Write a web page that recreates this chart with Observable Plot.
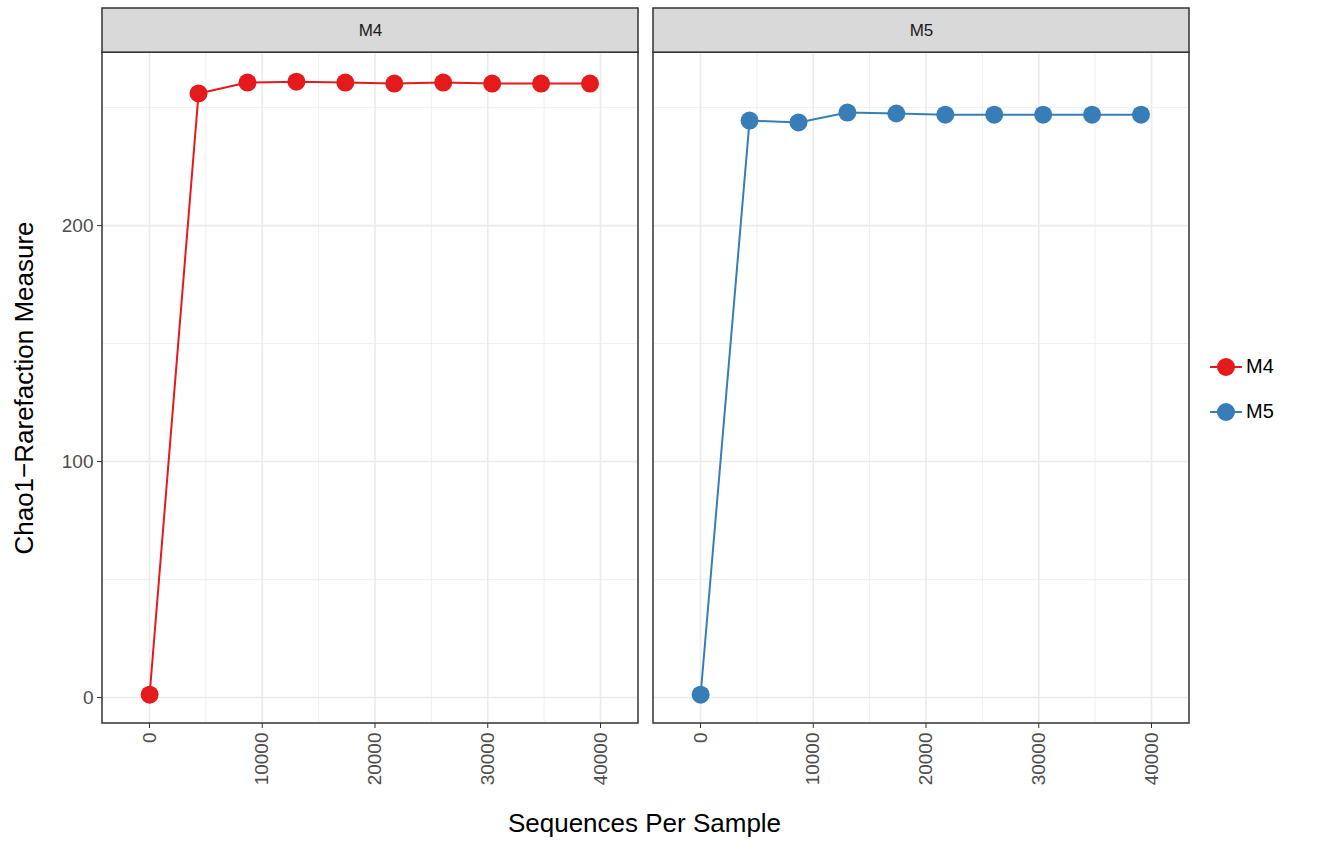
<!DOCTYPE html>
<html>
<head>
<meta charset="utf-8">
<script src="https://cdn.jsdelivr.net/npm/d3@7"></script>
<script src="https://cdn.jsdelivr.net/npm/@observablehq/plot@0.6"></script>
<style>
  body { margin: 0; background: #fff; font-family: "Liberation Sans", Arial, sans-serif; }
  #wrap { position: relative; width: 1325px; height: 846px; }
  #legend { position: absolute; left: 1208px; top: 344px; font-size: 20px; color: #000; }
  .item { display: flex; align-items: center; height: 45px; }
</style>
</head>
<body>
<div id="wrap">
  <div id="chart"></div>
  <div id="legend"></div>
</div>
<script>
// samples and depth
const samples = ["M4", "M5"];
const colors = ["#e41a1c", "#377eb8"];
const depths = [10, 4350, 8690, 13030, 17370, 21710, 26050, 30390, 34730, 39070];
const chaoM4 = [1.2, 256, 260.6, 261, 260.6, 260.2, 260.6, 260.2, 260.2, 260.2];
const chaoM5 = [1.2, 244.5, 243.7, 247.9, 247.5, 247, 247, 247, 247, 247];

const rows = [];
depths.forEach((d, i) => {
  rows.push({sample: "M4", depth: d, chao: chaoM4[i]});
  rows.push({sample: "M5", depth: d, chao: chaoM5[i]});
});

const majorX = [0, 10000, 20000, 30000, 40000];
const minorX = [5000, 15000, 25000, 35000];
const majorY = [0, 100, 200];
const minorY = [50, 150, 250];
const yTop = 273.3;
const stripTop = 292;

const chart = Plot.plot({
  width: 1200,
  height: 846,
  marginLeft: 101,
  marginRight: 11,
  marginTop: 8,
  marginBottom: 123,
  style: {fontFamily: "Liberation Sans, Arial, sans-serif", background: "#fff"},
  fx: {domain: samples, paddingInner: 0.0277, paddingOuter: 0, axis: null},
  x: {domain: [-4170, 43370], label: null},
  y: {domain: [-11, stripTop], label: null},
  color: {domain: samples, range: colors},
  marks: [
    Plot.ruleX(minorX, {y1: -11, y2: yTop, stroke: "#ebebeb", strokeWidth: 0.8}),
    Plot.ruleY(minorY, {stroke: "#ebebeb", strokeWidth: 0.8}),
    Plot.ruleX(majorX, {y1: -11, y2: yTop, stroke: "#ebebeb", strokeWidth: 1.6}),
    Plot.ruleY(majorY, {stroke: "#ebebeb", strokeWidth: 1.6}),
    Plot.line(rows, {x: "depth", y: "chao", fx: "sample", stroke: "sample", strokeWidth: 2}),
    Plot.dot(rows, {x: "depth", y: "chao", fx: "sample", fill: "sample", r: 9}),
    // panel border
    Plot.rect(samples, {fx: d => d, x1: -4170, x2: 43370, y1: -11, y2: yTop, fill: "none", stroke: "#333", strokeWidth: 1.5}),
    // strip
    Plot.rect(samples, {fx: d => d, x1: -4170, x2: 43370, y1: yTop, y2: stripTop, fill: "#d9d9d9", stroke: "#333", strokeWidth: 1.5}),
    Plot.text(samples, {fx: d => d, x: 19600, y: (yTop + stripTop) / 2, text: d => d, fontSize: 17, fill: "#1a1a1a"}),
    Plot.axisX(majorX, {tickRotate: -90, tickSize: 5, fontSize: 19, fill: "#4d4d4d", stroke: "#333", tickPadding: 4, tickFormat: d => String(d), label: null}),
    Plot.axisY(majorY, {tickSize: 5, fontSize: 19, fill: "#4d4d4d", stroke: "#333", tickPadding: 4, label: null, facetAnchor: "left"})
  ]
});

const svg = d3.select(chart);
svg.append("text").attr("x", 101 + 1087 / 2).attr("y", 832).attr("text-anchor", "middle")
  .attr("font-size", 26).attr("fill", "#000").text("Sequences Per Sample");
svg.append("text").attr("transform", "translate(33,388) rotate(-90)").attr("text-anchor", "middle")
  .attr("font-size", 26).attr("fill", "#000").text("Chao1\u2212Rarefaction Measure");

document.querySelector("#chart").append(chart);

// legend
const legend = d3.select("#legend");
samples.forEach((s, i) => {
  const it = legend.append("div").attr("class", "item");
  const sv = it.append("svg").attr("width", 36).attr("height", 30);
  sv.append("line").attr("x1", 2).attr("x2", 34).attr("y1", 15).attr("y2", 15).attr("stroke", colors[i]).attr("stroke-width", 2);
  sv.append("circle").attr("cx", 18).attr("cy", 15).attr("r", 9).attr("fill", colors[i]);
  it.append("span").style("margin-left", "2px").text(s);
});
</script>
</body>
</html>
